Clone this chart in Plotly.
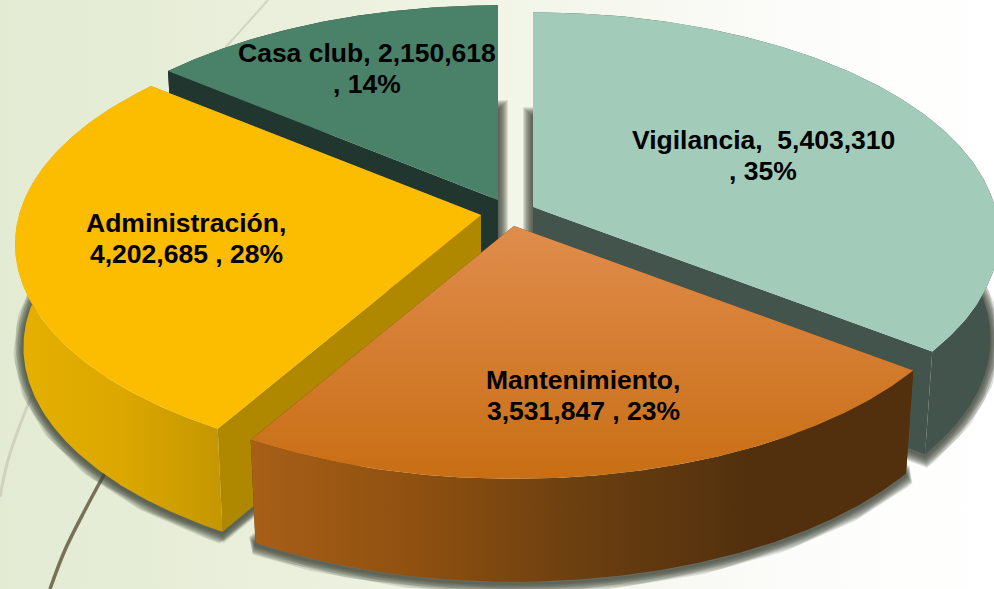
import numpy as np
import plotly.graph_objects as go

# ---- data ----
categories = ["Vigilancia", "Mantenimiento", "Administración", "Casa club"]
values = [5403310, 3531847, 4202685, 2150618]
percents = [35, 23, 28, 14]

# ---- label wording / placement ----
label_formats = [
    ["{n},  {v}", ", {p}%"],
    ["{n},", "{v} , {p}%"],
    ["{n},", "{v} , {p}%"],
    ["{n}, {v}", ", {p}%"],
]
label_x = [763, 583, 186, 367]
label_y = [139.5, 380, 223, 53]
LINE_STEP = 31

# ---- style / geometry ----
W, H = 994, 589
tips = {"Vigilancia": (533, 207), "Mantenimiento": (514, 226),
        "Administración": (481, 215), "Casa club": (498, 200)}
RX, RY, PERSP, SCALE, DEPTH = 462, 220, 0.13, 0.982, 103
styles = {
    "Vigilancia": dict(top=("#a2cbb9", "#a2cbb9"), wall=["#43544c", "#43544c"], edge="#43544c"),
    "Mantenimiento": dict(top=("#c86e14", "#e08c4c"),
                          wall=["#a85f17", "#8f5010", "#6b3f10", "#52300e", "#52300e"], edge="#52300e"),
    "Administración": dict(top=("#fcbd00", "#fcbd00"), wall=["#e5b000", "#dca800", "#c49600"], edge="#b08800"),
    "Casa club": dict(top=("#4a8169", "#4a8169"), wall=["#20362e", "#20362e"], edge="#20362e"),
}
draw_order = ["Casa club", "Vigilancia", "Administración", "Mantenimiento"]

# slice angles derived from the values (clockwise from 12 o'clock)
fractions = np.array(values) / sum(values)
ends = np.cumsum(fractions) * 2 * np.pi
starts = ends - fractions * 2 * np.pi
angles = {c: (s, e) for c, s, e in zip(categories, starts, ends)}


def top_pt(name, theta):
    u, v = np.sin(theta), -np.cos(theta)
    d = 1 - PERSP * v
    tx, ty = tips[name]
    return tx + RX * u / d, ty + RY * v / d


def bottom_pt(name, theta):
    x, y = top_pt(name, theta)
    tx, ty = tips[name]
    return tx + (x - tx) * SCALE, y + DEPTH


def scale_of(colors):
    return [[i / (len(colors) - 1), c] for i, c in enumerate(colors)]


def poly(xs, ys, colors, kind, name):
    return go.Scatter(x=list(xs), y=list(ys), mode="lines", fill="toself", line=dict(width=0),
                      fillgradient=dict(type=kind, colorscale=scale_of(list(colors))),
                      hoverinfo="skip", name=name, showlegend=False)


fig = go.Figure()

# page background
fig.add_trace(go.Scatter(x=[0, W, W, 0, 0], y=[0, 0, H, H, 0], mode="lines", fill="toself", line=dict(width=0),
                         fillgradient=dict(type="horizontal", colorscale=[
                             [0, "#e3ebd3"], [0.3, "#eaf0dc"], [0.55, "#f3f6ea"], [0.8, "#fcfcfa"], [1, "#ffffff"]]),
                         hoverinfo="skip", showlegend=False))
# decorative curves behind the pie
fig.add_trace(go.Scatter(x=[268, 247, 225], y=[0, 23, 48], mode="lines", line=dict(color="#d2d5c4", width=2),
                         hoverinfo="skip", showlegend=False))
fig.add_trace(go.Scatter(x=[32, 20, 8, 0], y=[395, 425, 460, 497], mode="lines", line=dict(color="#cfd3bd", width=3),
                         line_shape="spline", hoverinfo="skip", showlegend=False))
fig.add_trace(go.Scatter(x=[105, 85, 65, 50], y=[473, 510, 550, 589], mode="lines", line=dict(color="#787058", width=3.5),
                         line_shape="spline", hoverinfo="skip", showlegend=False))

# soft shadows under the slices
for name in draw_order:
    s, e = angles[name]
    th = np.linspace(s, e, 160)
    bx, by = zip(*[bottom_pt(name, t) for t in th])
    tip_b = (tips[name][0], tips[name][1] + DEPTH)
    xs = [tip_b[0]] + list(bx) + [tip_b[0]]
    ys = [tip_b[1]] + list(by) + [tip_b[1]]
    for w in (20, 18, 16, 14, 12, 10, 8, 6, 4, 2):
        fig.add_trace(go.Scatter(x=xs, y=[y + 2 for y in ys], mode="lines",
                                 line=dict(color="rgba(60,64,56,0.15)", width=w),
                                 hoverinfo="skip", showlegend=False))

# slices: cut edges, outer wall, top face
for name in draw_order:
    st = styles[name]
    s, e = angles[name]
    th = np.linspace(s, e, 160)
    tx, ty = zip(*[top_pt(name, t) for t in th])
    bx, by = zip(*[bottom_pt(name, t) for t in th])
    tip = tips[name]
    for t in (s, e):
        p, q = top_pt(name, t), bottom_pt(name, t)
        fig.add_trace(poly([tip[0], p[0], q[0], tip[0], tip[0]],
                           [tip[1], p[1], q[1], tip[1] + DEPTH, tip[1]],
                           (st["edge"], st["edge"]), "horizontal", name + " edge"))
    fig.add_trace(poly(list(tx) + list(bx)[::-1] + [tx[0]], list(ty) + list(by)[::-1] + [ty[0]],
                       st["wall"], "horizontal", name + " wall"))
    fig.add_trace(poly([tip[0]] + list(tx) + [tip[0]], [tip[1]] + list(ty) + [tip[1]],
                       st["top"], "vertical", name))

for c, v, p, fmt, x, y in zip(categories, values, percents, label_formats, label_x, label_y):
    for i, f in enumerate(fmt):
        fig.add_annotation(x=x, y=y + i * LINE_STEP, xref="x", yref="y", showarrow=False, align="center",
                           text="<b>" + f.format(n=c, v=f"{v:,}", p=p) + "</b>",
                           font=dict(family="Liberation Sans", size=26.5, color="#000000"))

fig.update_layout(width=W, height=H, margin=dict(l=0, r=0, t=0, b=0), showlegend=False,
                  paper_bgcolor="#ffffff", plot_bgcolor="#ffffff",
                  xaxis=dict(range=[0, W], visible=False, fixedrange=True),
                  yaxis=dict(range=[H, 0], visible=False, fixedrange=True))
fig.write_html("out.html", config={"displayModeBar": False},
               post_script="document.body.style.margin='0';")
